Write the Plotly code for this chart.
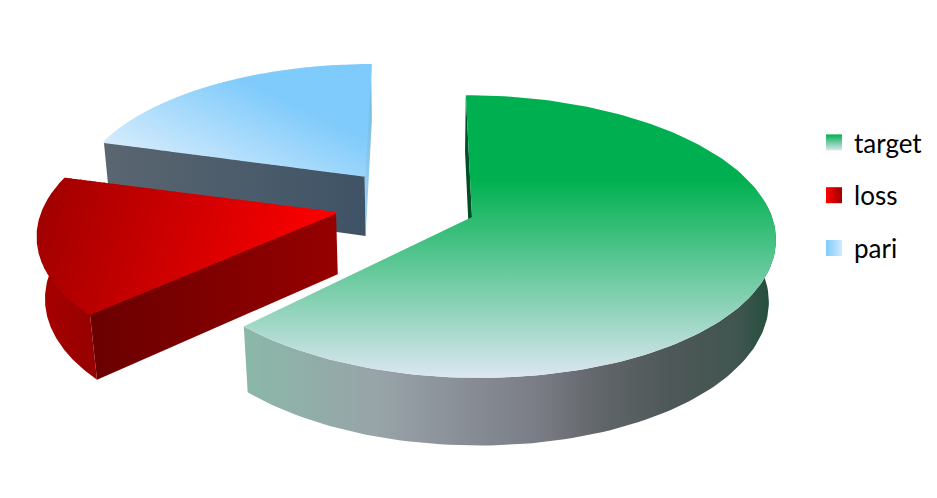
import numpy as np
import plotly.graph_objects as go

labels = ["target", "loss", "pari"]
values = [62.4, 17.1, 20.5]

# perspective of the pie, all in pixels of the 937x498 picture
VX = 421
HY = -788
GROUND = 1005
DROP = 83
K = 0.138
KZ = 0.02
R = 300
X0 = 51
PULL = 0.24
slice_scale = {"target": 1.0, "loss": 0.985, "pari": 0.985}
slice_shift = {"target": (0, 0), "loss": (0, 0), "pari": (0, 0.025)}
# the red slice sits a little tighter than its share, in degrees at each end
slice_trim = {"target": (0, 0), "loss": (2.5, -1), "pari": (0, 0)}

target_top = [[0, "#00B050"], [0.3, "#00B050"], [1, "#DCE6F2"]]
# diagonal gradients: normal direction, origin, length, first and last colour
diag_grad = {
    "loss": ((0.96, 0.28), (38, 178), 295, (0x9E, 0, 0), (0xFF, 0, 0)),
    "pari": ((-0.43, 0.91), (255, 85), 117, (0x7F, 0xCB, 0xFB), (0xD5, 0xEC, 0xFD)),
}
rim_grad = {
    "target": [[0, "#8AB8A8"], [0.25, "#98A4A8"], [0.4, "#8A9098"], [0.55, "#7A7D85"],
               [0.68, "#5F6468"], [0.8, "#4F5858"], [0.93, "#3F5550"], [1, "#1F4D38"]],
    "loss": [[0, "#A80000"], [1, "#960000"]],
}
cut_start = {"target": ("#004D26", "#004D26"), "loss": ("#6A0000", "#960000"), "pari": ("#5A6670", "#3F5366")}
cut_end = {"target": None, "loss": None, "pari": ("#6FB5E0", "#9FD6F6")}
legend_grad = {
    "target": ("#00B050", "#DCE6F2", "vertical"),
    "loss": ("#FF0000", "#A00000", "horizontal"),
    "pari": ("#7FCBFB", "#D0E9FD", "horizontal"),
}


def project(X, Y, d):
    w = 1 / (1 + K * np.asarray(Y) + KZ * d)
    return VX + (X0 + R * np.asarray(X)) * w, HY + (GROUND + DROP * d) * w


fractions = np.array(values) / sum(values) * 2 * np.pi
ends = np.cumsum(fractions)
starts = ends - fractions
mids = (starts + ends) / 2
cx, cy = -PULL * np.sin(mids[0]), -PULL * np.cos(mids[0])

fig = go.Figure()


def add_poly(x, y, grad_type, start, stop, scale):
    fig.add_trace(
        go.Scatter(
            x=x,
            y=y,
            mode="lines",
            line=dict(width=0),
            fill="toself",
            fillgradient=dict(type=grad_type, start=start, stop=stop, colorscale=scale),
            hoverinfo="skip",
            showlegend=False,
        )
    )


def add_cut(ax, ay, ang, s, colors):
    ex, ey = ax + s * np.sin(ang), ay + s * np.cos(ang)
    tx, ty = project([ax, ex], [ay, ey], 0)
    bx, by = project([ax, ex], [ay, ey], 1)
    x = [tx[0], tx[1], bx[1], bx[0], tx[0]]
    y = [ty[0], ty[1], by[1], by[0], ty[0]]
    if abs(np.sin(ang)) < 0.05:
        add_poly(x, y, "vertical", min(y), max(y), [[0, colors[0]], [1, colors[1]]])
    else:
        add_poly(x, y, "horizontal", min(x), max(x), [[0, colors[0]], [1, colors[1]]])


def clip(pts, n, lo, hi):
    # keep the part of a convex polygon where lo <= n.p <= hi
    for sign, lim in ((1, hi), (-1, -lo)):
        out = []
        for p, q in zip(pts, pts[1:] + pts[:1]):
            dp = sign * (n[0] * p[0] + n[1] * p[1]) - lim
            dq = sign * (n[0] * q[0] + n[1] * q[1]) - lim
            if dp <= 0:
                out.append(p)
            if dp * dq < 0:
                s = dp / (dp - dq)
                out.append((p[0] + s * (q[0] - p[0]), p[1] + s * (q[1] - p[1])))
        pts = out
        if not pts:
            break
    return pts


def add_diag(x, y, grad, bands=60):
    n, origin, length, c0, c1 = grad
    pts = list(zip(x, y))
    o = n[0] * origin[0] + n[1] * origin[1]
    all_t = [n[0] * p[0] + n[1] * p[1] - o for p in pts]
    edges = np.linspace(min(all_t), max(all_t), bands + 1)
    for lo, hi in zip(edges, edges[1:]):
        part = clip(pts, n, lo + o, hi + o)
        if len(part) < 3:
            continue
        t = min(max((lo + hi) / 2 / length, 0), 1)
        color = "rgb(%d,%d,%d)" % tuple(a + (b - a) * t for a, b in zip(c0, c1))
        px = [p[0] for p in part] + [part[0][0]]
        py = [p[1] for p in part] + [part[0][1]]
        fig.add_trace(
            go.Scatter(
                x=px,
                y=py,
                mode="lines",
                line=dict(width=1.5, color=color),
                fill="toself",
                fillcolor=color,
                hoverinfo="skip",
                showlegend=False,
            )
        )


# far slices first so the nearer ones cover them
for i in [2, 1, 0]:
    name = labels[i]
    s = slice_scale[name]
    ax = cx + PULL * np.sin(mids[i]) + slice_shift[name][0]
    ay = cy + PULL * np.cos(mids[i]) + slice_shift[name][1]
    a0 = starts[i] + np.radians(slice_trim[name][0])
    a1 = ends[i] + np.radians(slice_trim[name][1])
    th = np.linspace(a0, a1, 160)
    rx = ax + s * np.sin(th)
    ry = ay + s * np.cos(th)

    if cut_end[name]:
        add_cut(ax, ay, a1, s, cut_end[name])
    if cut_start[name]:
        add_cut(ax, ay, a0, s, cut_start[name])

    if name in rim_grad:
        # only the part of the rim that faces the viewer
        front = np.cos(th) < 0.12
        tx, ty = project(rx[front], ry[front], 0)
        bx, by = project(rx[front], ry[front], 1)
        x = np.r_[tx, bx[::-1], tx[:1]]
        y = np.r_[ty, by[::-1], ty[:1]]
        add_poly(x, y, "horizontal", x.min(), x.max(), rim_grad[name])

    tx, ty = project(rx, ry, 0)
    ox, oy = project([ax], [ay], 0)
    if name in diag_grad:
        add_diag(np.r_[ox, tx], np.r_[oy, ty], diag_grad[name])
    else:
        add_poly(np.r_[ox, tx, ox], np.r_[oy, ty, oy], "vertical", 95, 378, target_top)

for i, name in enumerate(labels):
    c0, c1, gtype = legend_grad[name]
    fig.add_trace(
        go.Scatter(
            x=[None],
            y=[None],
            name=name,
            mode="markers",
            legendgroup=name,
            marker=dict(symbol="square", size=16, color=c0, gradient=dict(type=gtype, color=c1)),
        )
    )

fig.update_layout(
    width=937,
    height=498,
    margin=dict(l=0, r=0, t=0, b=0),
    paper_bgcolor="white",
    plot_bgcolor="white",
    xaxis=dict(range=[0, 937], visible=False),
    yaxis=dict(range=[498, 0], visible=False),
    font=dict(family="Lato", size=26, color="#000000"),
    legend=dict(
        x=814 / 937,
        y=1 - 119 / 498,
        xanchor="left",
        yanchor="top",
        tracegroupgap=16,
        bgcolor="rgba(0,0,0,0)",
    ),
)

fig.write_html(
    "out.html",
    config={"displayModeBar": False},
    post_script="document.body.style.margin='0';",
)
